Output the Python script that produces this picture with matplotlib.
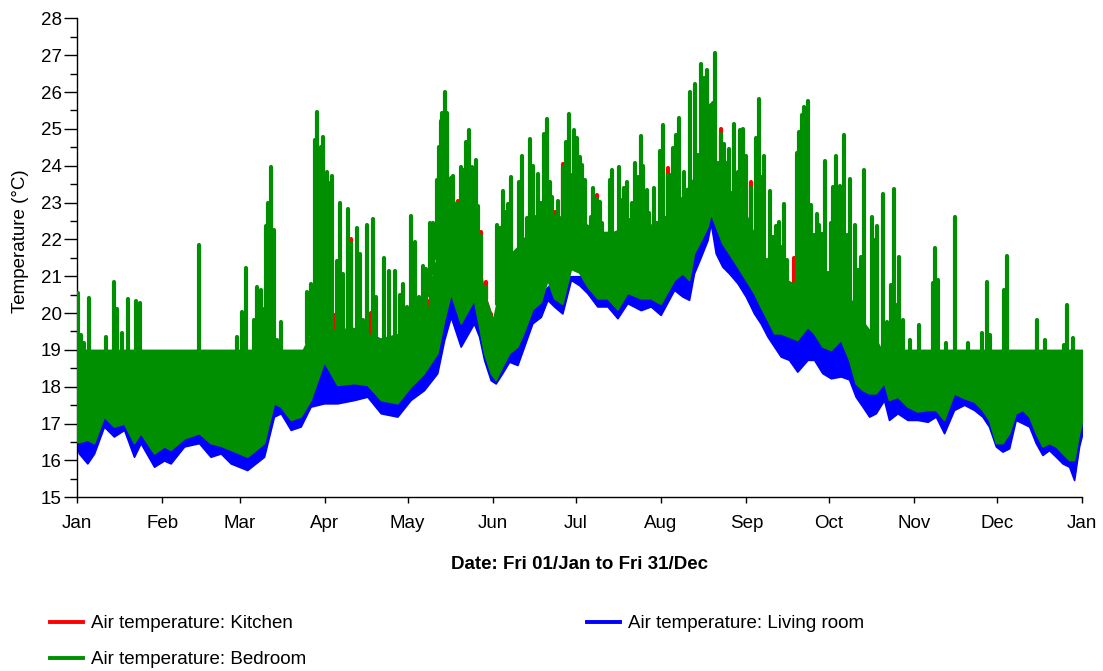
import matplotlib as mpl
import matplotlib.pyplot as plt
from matplotlib.lines import Line2D
import numpy as np

plt.rcParams['font.family'] = ['Liberation Sans', 'DejaVu Sans']

# day of year (0 = 1 Jan) -> month ticks
month_start = [0, 31, 59, 90, 120, 151, 181, 212, 243, 273, 304, 334, 365]
month_lbl = ['Jan', 'Feb', 'Mar', 'Apr', 'May', 'Jun', 'Jul', 'Aug', 'Sep', 'Oct', 'Nov', 'Dec', 'Jan']

# lower edge of the daily swing (deg C)
env_day = [0, 0.7, 3.75, 6.2, 9.8, 13.4, 17.1, 20.7, 23.1, 28, 31.6, 34, 38.9, 44.3, 48.5, 52.2, 55.8, 61.8,
           67.9, 71.5, 74, 77.6, 81.2, 84.8, 89.7, 94.5, 100.6, 105.4, 110.3, 116.3, 121.1, 126, 130.8, 133.3,
           135.7, 139.3, 144.1, 146, 147.8, 150.2, 152, 154.4, 156.9, 159.9, 162.3, 165.3, 168.4, 170.8, 173.2,
           176.2, 179.3, 182.3, 185.3, 188.9, 192.6, 196.2, 199.8, 204.7, 208.3, 211.9, 216.8, 219.8, 222.2, 224,
           226.5, 228.9, 230.1, 231.9, 234.3, 236.7, 239.8, 242.8, 245.8, 248.2, 250.7, 253.1, 255.5, 258.5,
           261.5, 265.2, 267.6, 270.6, 273.7, 277.3, 280.3, 282.7, 285.2, 287.6, 290, 293, 294.8, 297.9, 301.5,
           305.1, 308.8, 311.8, 314.8, 318.4, 322.1, 325.7, 328.7, 331.1, 333.6, 336, 338.4, 340.8, 343.3, 345.7,
           348.1, 350.5, 352.9, 355.4, 357.8, 360.2, 362, 363.8, 365]
bed_low = [16.5, 16.5, 16.56, 16.47, 17.19, 16.92, 17.0, 16.47, 16.74, 16.19, 16.38, 16.29, 16.6, 16.74, 16.47,
           16.4, 16.29, 16.1, 16.47, 17.55, 17.46, 17.1, 17.19, 17.64, 18.68, 18.05, 18.1, 18.05, 17.64, 17.55,
           18.0, 18.37, 18.91, 19.81, 20.54, 19.72, 20.36, 19.63, 18.91, 18.37, 18.18, 18.55, 18.91, 19.09, 19.5,
           20.1, 20.3, 20.9, 20.4, 20.25, 21.2, 21.1, 20.72, 20.4, 20.4, 20.1, 20.55, 20.4, 20.4, 20.25,
           20.9, 21.08, 20.9, 21.62, 21.98, 22.35, 22.71, 22.35, 21.89, 21.62, 21.26, 20.9, 20.54, 20.17, 19.81,
           19.45, 19.45, 19.36, 19.27, 19.63, 19.45, 19.09, 19.0, 19.27, 18.73, 18.09, 17.91, 17.82, 17.82, 18.1,
           17.64, 17.73, 17.46, 17.33, 17.37, 17.37, 17.1, 17.82, 17.69, 17.6, 17.37, 17.1, 16.47, 16.47, 16.74,
           17.28, 17.37, 17.19, 16.74, 16.38, 16.47, 16.38, 16.19, 16.01, 16.01, 16.74, 17.1]
liv_low = [16.38, 16.19, 15.92, 16.19, 16.92, 16.65, 16.83, 16.1, 16.47, 15.83, 16.0, 15.92, 16.38, 16.47, 16.1,
           16.19, 15.92, 15.74, 16.1, 17.19, 17.28, 16.83, 16.92, 17.46, 17.55, 17.55, 17.64, 17.73, 17.28, 17.19,
           17.64, 17.91, 18.37, 19.27, 19.9, 19.09, 19.72, 19.36, 18.73, 18.18, 18.09, 18.37, 18.68, 18.59, 19.09,
           19.72, 19.9, 20.36, 20.18, 19.99, 20.9, 20.76, 20.54, 20.18, 20.18, 19.86, 20.27, 20.08, 20.18, 19.95,
           20.63, 20.45, 20.36, 21.08, 21.53, 21.98, 22.44, 21.62, 21.26, 21.08, 20.81, 20.45, 19.99, 19.72, 19.36,
           19.09, 18.82, 18.73, 18.41, 18.73, 18.73, 18.37, 18.23, 18.28, 18.2, 17.73, 17.46, 17.19, 17.28, 17.64,
           17.1, 17.28, 17.1, 17.1, 17.05, 17.19, 16.74, 17.37, 17.51, 17.37, 17.19, 16.92, 16.38, 16.24, 16.33,
           17.1, 17.01, 16.92, 16.47, 16.15, 16.28, 16.1, 15.92, 15.83, 15.47, 16.38, 16.74]

# upper edge of the solid part (heating setpoint 19 in winter)
bed_top_day = [0, 82, 86, 90, 100, 110, 120, 127, 129, 133, 137, 141, 145, 148, 151, 153, 156, 160, 165, 170,
               175, 180, 185, 190, 195, 200, 205, 210, 215, 220, 225, 230, 235, 240, 245, 250, 255, 260, 265,
               270, 275, 280, 285, 290, 292, 365]
bed_top = [19.0, 19.0, 19.6, 19.5, 19.6, 19.3, 19.5, 19.8, 21.0, 22.3, 22.3, 22.0, 21.8, 20.5, 19.8, 20.5, 21.5,
           21.8, 22.3, 22.8, 22.6, 22.8, 22.4, 22.2, 22.2, 22.4, 22.4, 22.4, 22.7, 23.2, 23.8, 23.8, 23.4, 23.2,
           22.3, 21.3, 21.0, 20.8, 21.2, 20.8, 20.8, 20.5, 19.8, 19.3, 19.0, 19.0]
liv_top_day = [0, 82, 90, 128, 135, 145, 152, 165, 175, 215, 230, 245, 260, 280, 290, 365]
liv_top = [18.9, 18.9, 19.3, 19.3, 20.6, 20.3, 19.0, 20.3, 21.0, 21.0, 23.0, 21.0, 19.8, 19.2, 18.9, 18.9]
kit_day = [0, 60, 75, 90, 120, 135, 145, 152, 160, 170, 180, 190, 200, 215, 230, 245, 260, 275, 290, 320, 330,
           345, 365]
kit_low = [17.4, 17.4, 17.8, 18.8, 18.3, 20.6, 20.5, 18.6, 19.5, 21.3, 21.5, 20.8, 20.8, 21.0, 22.8, 20.6, 19.4,
           19.3, 18.0, 17.9, 17.4, 17.4, 17.2]
kit_high = [18.8, 18.8, 18.8, 19.2, 19.2, 21.5, 21.2, 19.6, 21.0, 22.0, 22.2, 21.6, 21.6, 21.8, 23.3, 21.5, 20.5,
            20.3, 19.0, 18.8, 18.8, 18.8, 18.8]

# daily peaks that stick out above the band
bed_spike_day = [0.3, 1.3, 2.5, 4.4, 10.4, 13.4, 14.6, 16.5, 18.5, 21.3, 22.8, 44.3, 58.2, 60.0, 61.2, 64.3,
                 65.5, 66.7, 67.7, 68.5, 69.4, 70.3, 71.5, 72.7, 74.2,
                 83.6, 85.0, 86.3, 87.3, 88.5, 89.4, 90.7, 91.5, 92.7, 94.3, 95.5, 96.7, 98.4, 99.6, 101.5, 102.8,
                 104.0, 105.4, 107.4, 108.4, 109.3, 111.5, 113.4, 115.3, 117.3, 118.5, 119.9, 121.4, 122.7, 124.3,
                 125.5, 126.7, 128.2, 129.4, 130.6, 131.3, 132.0, 132.6, 133.5, 134.5, 135.7, 136.5, 137.9, 139.3,
                 140.5, 141.4, 142.3, 143.5, 144.8, 145.6,
                 146.6, 148.4, 152.4, 153.6, 154.7, 155.6, 156.5, 157.5, 160.5, 161.7, 163.5, 164.5, 165.7, 166.5,
                 167.5, 168.4, 169.6, 170.5, 171.7, 172.6, 173.4, 174.6, 175.9, 176.6, 177.4, 178.8, 179.6, 180.5,
                 181.4, 182.5, 183.5, 184.4, 185.3, 186.5, 187.5, 188.7, 189.9, 190.7, 191.7, 192.6, 193.4, 194.4,
                 195.6, 196.6, 197.4, 198.6, 199.6, 200.8, 201.6, 202.7, 203.7, 204.7, 205.6, 206.8, 207.7, 209.5,
                 210.5, 211.6, 212.8, 213.7, 214.6, 215.6, 216.5, 217.4, 218.4,
                 220.4, 221.6, 222.5, 224.4, 225.5, 226.5, 227.7, 228.9, 230.1, 231.0, 231.7, 232.7, 233.9, 234.9,
                 235.9, 236.7, 238.6, 239.8, 240.6, 241.8, 242.8, 244.6, 246.4, 247.6, 248.5, 249.4, 250.4, 251.6,
                 252.8, 253.7, 254.7, 255.5, 256.7, 257.9, 261.3, 262.3, 263.1, 264.0, 264.7, 265.5, 266.4, 267.4,
                 268.6, 269.4, 270.4, 271.6, 272.7, 273.9, 274.6, 275.7, 277.0, 278.5, 279.7, 280.7, 282.5, 283.6,
                 284.5, 285.8, 287.3, 288.5, 289.6, 290.6,
                 292.7, 294.2, 295.4, 296.7, 297.5, 298.5, 299.7, 302.5, 305.7, 310.6, 311.5, 312.6, 315.6, 318.6,
                 323.6, 328.4, 330.5, 331.5, 336.6, 337.7, 348.4, 351.5, 358.4, 359.3, 361.6]
bed_spike = [20.54, 19.4, 19.18, 20.4, 19.36, 20.85, 20.1, 19.47, 20.38, 20.34, 20.27, 21.85, 19.34, 20.02, 21.23,
             19.81, 20.7, 20.63, 20.1, 22.35, 22.98, 23.97, 22.26, 19.27, 19.77,
             20.56, 20.79, 24.7, 25.47, 24.5, 24.77, 23.84, 23.52, 23.72, 21.4, 23.0, 21.05, 22.83, 21.9, 22.3,
             21.6, 19.8, 22.4, 22.54, 20.43, 19.3, 21.49, 21.15, 21.15, 20.49, 20.79, 20.17, 22.64, 21.94, 20.43,
             21.29, 21.2, 22.44, 22.45, 23.61, 24.5, 25.22, 25.42, 26.01, 25.42, 23.66, 23.73, 22.98, 23.97, 23.88,
             24.65, 24.97, 23.96, 24.15, 22.9,
             22.09, 20.72, 22.39, 22.3, 23.32, 22.75, 22.96, 23.68, 23.57, 24.27, 22.57, 24.72, 24.0, 22.62, 23.77,
             22.98, 24.86, 25.26, 23.57, 23.16, 22.6, 23.05, 21.98, 23.95, 24.65, 25.4, 23.75, 24.97, 24.74, 24.23,
             24.02, 23.61, 21.71, 22.62, 23.39, 23.1, 23.02, 22.44, 21.9, 21.55, 23.61, 23.88, 21.44, 23.97, 23.07,
             23.39, 23.57, 22.53, 22.98, 24.06, 23.68, 24.81, 23.99, 23.34, 22.71, 23.39, 22.44, 24.41, 25.1, 21.89,
             23.75, 23.75, 24.47, 24.83, 25.29,
             23.84, 23.07, 26.01, 26.23, 24.29, 26.76, 26.37, 26.6, 25.65, 25.69, 27.05, 24.06, 24.85, 24.6, 24.06,
             24.45, 25.13, 23.84, 24.97, 24.99, 24.25, 23.4, 24.74, 25.8, 23.7, 24.25, 21.44, 23.32, 22.07, 22.35,
             22.48, 21.8, 22.95, 21.44, 24.34, 24.92, 25.38, 25.6, 25.56, 25.76, 22.93, 22.12, 22.69, 22.39, 22.15,
             24.14, 21.08, 22.44, 23.43, 24.27, 23.45, 24.83, 22.12, 23.63, 22.39, 21.17, 21.53, 23.88, 19.04,
             22.62, 21.98, 22.35,
             23.23, 19.77, 20.76, 23.36, 20.22, 21.51, 19.81, 19.27, 19.68, 20.81, 21.76, 20.9, 19.18, 22.6, 19.18,
             19.45, 20.83, 19.41, 20.63, 21.55, 19.81, 19.27, 19.13, 20.22, 19.32]
kit_spike_day = [93.6, 99.4, 106.6, 134.2, 138.3, 146.6, 148.4, 150.2, 151.2, 158.9, 173.4, 176.6, 188.7, 191.7,
                 214.6, 233.9, 244.6, 258.9, 260.3]
kit_spike = [19.95, 22.0, 20.0, 21.45, 23.05, 22.2, 20.85, 19.95, 19.65, 20.55, 22.75, 24.05, 23.2, 22.0, 23.95,
             25.0, 23.55, 20.4, 21.5]

red = '#ff0000'
blue = '#0000ff'
green = '#008f00'

fig = plt.figure(figsize=(11.03, 6.71), dpi=100)
ax = fig.add_axes([0.0698, 0.2589, 0.9115, 0.7138])


def draw_band(ax, lo_day, lo, hi_day, hi, colour, z):
    xs = np.union1d(lo_day, hi_day)
    ylo = np.interp(xs, lo_day, lo)
    yhi = np.interp(xs, hi_day, hi)
    ax.fill_between(xs, ylo, yhi, color=colour, lw=1.2, edgecolor=colour, zorder=z)


def draw_spikes(ax, days, tops, hi_day, hi, colour, z):
    base = np.interp(days, hi_day, hi) - 0.05
    ax.vlines(days, base, tops, colors=colour, lw=3.0, capstyle='round', zorder=z)


# kitchen underneath, then living room, bedroom on top
draw_band(ax, kit_day, kit_low, kit_day, kit_high, red, 1)
draw_spikes(ax, kit_spike_day, kit_spike, kit_day, kit_high, red, 1.5)
draw_band(ax, env_day, liv_low, liv_top_day, liv_top, blue, 2)
draw_band(ax, env_day, bed_low, bed_top_day, bed_top, green, 3)
draw_spikes(ax, bed_spike_day, bed_spike, bed_top_day, bed_top, green, 3.5)

ax.set_xlim(0, 365)
ax.set_ylim(15, 28)
ax.set_xticks(month_start)
ax.set_xticklabels(month_lbl)
ax.set_yticks(np.arange(15, 29, 1))
ax.set_yticks(np.arange(15.5, 28, 1), minor=True)
for s in ['top', 'right']:
    ax.spines[s].set_visible(False)
for s in ['left', 'bottom']:
    ax.spines[s].set_linewidth(1.0)
ax.tick_params(axis='y', which='major', length=9.4, width=1, pad=1.5, labelsize=13.5)
ax.tick_params(axis='y', which='minor', length=4.8, width=1)
ax.tick_params(axis='x', which='major', length=4.3, width=1, pad=8.5, labelsize=13.5)

ax.set_xlabel('Date: Fri 01/Jan to Fri 31/Dec', fontsize=13.5, fontweight='bold')
ax.xaxis.set_label_coords(0.5, -0.123)
ax.set_ylabel('Temperature (°C)', fontsize=13.5)
ax.yaxis.set_label_coords(-0.0477, 0.535)

h_kit = Line2D([], [], color=red, lw=2.8)
h_liv = Line2D([], [], color=blue, lw=2.8)
h_bed = Line2D([], [], color=green, lw=2.8)
leg_kw = dict(loc='upper left', frameon=False, fontsize=13.5, handlelength=1.75, handletextpad=0.45,
              labelspacing=1.02, borderaxespad=0, borderpad=0)
fig.legend([h_kit, h_bed], ['Air temperature: Kitchen', 'Air temperature: Bedroom'],
           bbox_to_anchor=(0.0453, 0.0835), **leg_kw)
fig.legend([h_liv], ['Air temperature: Living room'], bbox_to_anchor=(0.532, 0.0835), **leg_kw)

plt.savefig('out.png', dpi=100)
